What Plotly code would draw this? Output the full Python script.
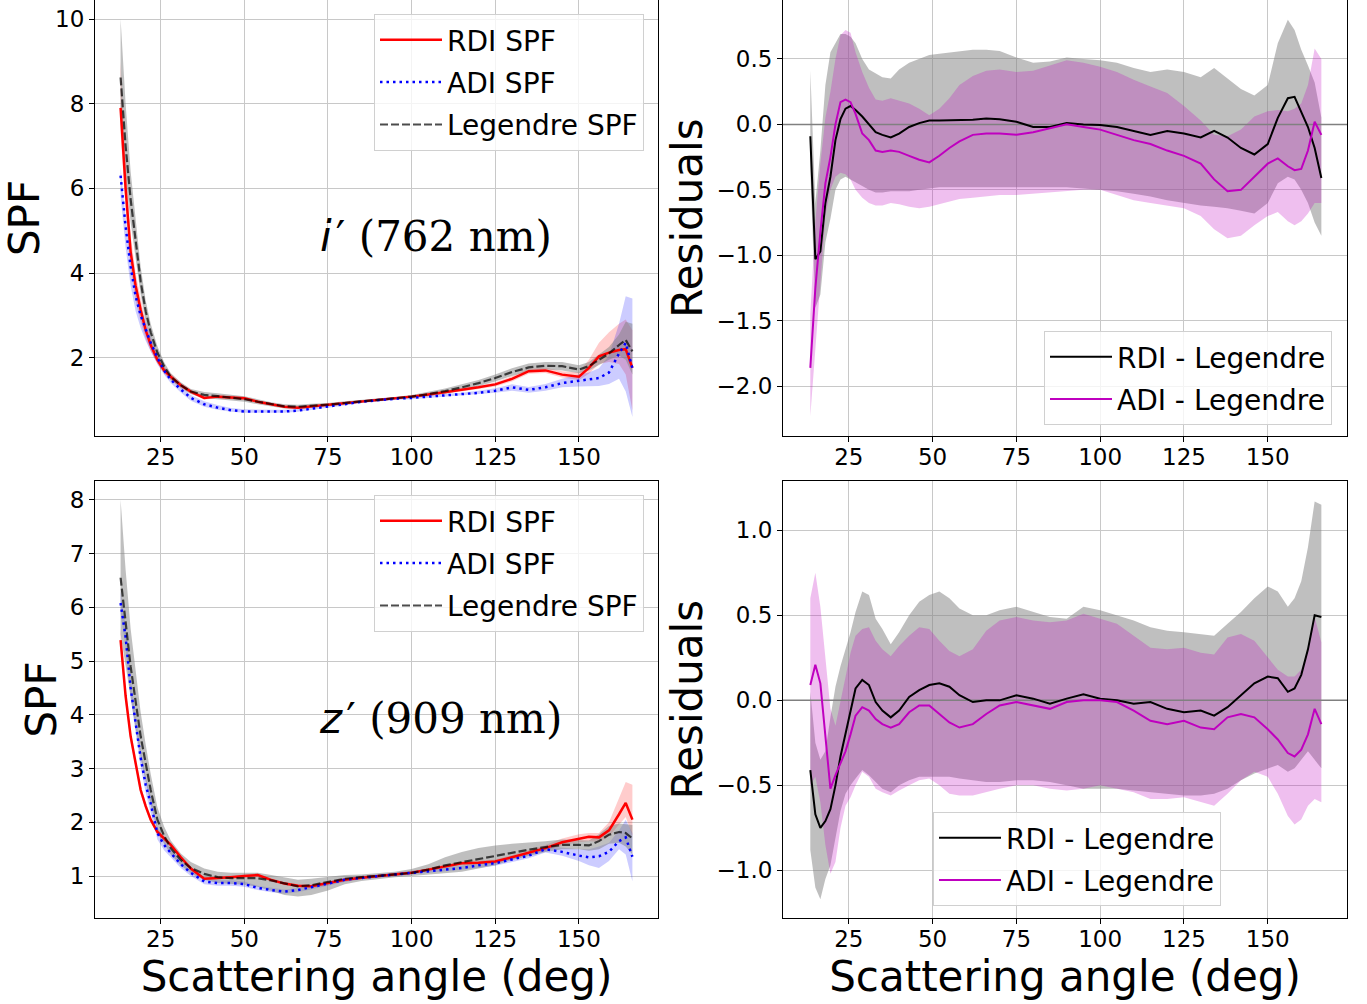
import plotly.graph_objects as go

# ---------------- data ----------------
angles_spf = [13, 14.5, 16, 17.5, 19, 20.5, 22, 24, 26, 28, 31, 34, 38, 42, 46, 50, 54, 58, 62, 66,
              70, 75, 80, 85, 90, 95, 100, 105, 110, 115, 120, 125, 130, 135, 140, 145, 150, 153,
              156, 159, 162, 164, 166]

# i' band (762 nm)
rdi_i = [7.9, 6.0, 4.5, 3.7, 3.13, 2.65, 2.3, 1.95, 1.7, 1.55, 1.35, 1.2, 1.05, 1.08, 1.06, 1.04, 0.96,
         0.9, 0.84, 0.82, 0.85, 0.89, 0.93, 0.96, 1.0, 1.04, 1.08, 1.13, 1.18, 1.24, 1.3, 1.37, 1.5,
         1.68, 1.7, 1.6, 1.55, 1.76, 2.03, 2.12, 2.18, 2.2, 1.76]
rdi_i_lo = [7.3, 5.5, 4.1, 3.35, 2.85, 2.45, 2.15, 1.85, 1.62, 1.48, 1.3, 1.15, 1.01, 1.04, 1.02, 1.0,
            0.93, 0.87, 0.81, 0.79, 0.82, 0.86, 0.9, 0.94, 0.98, 1.02, 1.05, 1.1, 1.15, 1.2, 1.26,
            1.32, 1.44, 1.62, 1.64, 1.53, 1.47, 1.62, 1.85, 1.9, 1.85, 1.6, 0.75]
rdi_i_hi = [9.0, 6.6, 4.9, 4.0, 3.4, 2.85, 2.45, 2.07, 1.8, 1.63, 1.41, 1.25, 1.09, 1.12, 1.1, 1.08,
            0.99, 0.93, 0.87, 0.85, 0.88, 0.92, 0.96, 0.98, 1.02, 1.06, 1.11, 1.16, 1.21, 1.28, 1.34,
            1.42, 1.56, 1.74, 1.76, 1.68, 1.65, 1.95, 2.35, 2.6, 2.8, 2.9, 2.65]
adi_i = [6.3, 5.1, 4.15, 3.45, 3.0, 2.65, 2.35, 2.0, 1.7, 1.48, 1.25, 1.05, 0.9, 0.82, 0.76, 0.73, 0.73,
         0.73, 0.73, 0.75, 0.79, 0.84, 0.9, 0.96, 1.0, 1.03, 1.05, 1.08, 1.1, 1.13, 1.17, 1.22, 1.3,
         1.24, 1.3, 1.4, 1.45, 1.48, 1.52, 1.65, 2.1, 2.35, 1.75]
adi_i_lo = [5.8, 4.6, 3.7, 3.1, 2.7, 2.4, 2.15, 1.85, 1.6, 1.4, 1.18, 0.98, 0.84, 0.77, 0.72, 0.7, 0.7,
            0.7, 0.7, 0.72, 0.76, 0.81, 0.87, 0.93, 0.97, 1.0, 1.02, 1.05, 1.07, 1.1, 1.13, 1.17,
            1.22, 1.17, 1.22, 1.3, 1.32, 1.32, 1.33, 1.38, 1.5, 1.2, 0.6]
adi_i_hi = [6.5, 5.3, 4.35, 3.65, 3.2, 2.85, 2.5, 2.13, 1.8, 1.56, 1.32, 1.12, 0.97, 0.88, 0.81, 0.78,
            0.77, 0.77, 0.77, 0.79, 0.83, 0.88, 0.93, 0.99, 1.03, 1.06, 1.08, 1.11, 1.14, 1.17, 1.22,
            1.28, 1.37, 1.31, 1.38, 1.5, 1.6, 1.65, 1.75, 2.05, 2.8, 3.45, 3.4]
leg_i = [8.62, 7.0, 5.74, 4.7, 3.8, 3.1, 2.6, 2.12, 1.8, 1.55, 1.35, 1.2, 1.12, 1.09, 1.06, 1.02, 0.96,
         0.9, 0.85, 0.84, 0.86, 0.89, 0.93, 0.97, 1.0, 1.04, 1.08, 1.14, 1.21, 1.3, 1.4, 1.52, 1.66,
         1.77, 1.81, 1.8, 1.72, 1.8, 1.95, 2.1, 2.3, 2.42, 2.15]
leg_i_lo = [7.9, 6.3, 5.2, 4.3, 3.5, 2.85, 2.4, 1.98, 1.7, 1.47, 1.28, 1.14, 1.05, 1.02, 0.99, 0.96,
            0.9, 0.85, 0.8, 0.79, 0.81, 0.85, 0.89, 0.94, 0.97, 1.01, 1.04, 1.09, 1.15, 1.23, 1.33,
            1.44, 1.57, 1.68, 1.72, 1.7, 1.63, 1.7, 1.83, 1.95, 2.05, 1.95, 1.6]
leg_i_hi = [10.0, 8.0, 6.4, 5.2, 4.15, 3.35, 2.8, 2.27, 1.9, 1.63, 1.42, 1.26, 1.19, 1.16, 1.13, 1.09,
            1.02, 0.95, 0.9, 0.89, 0.91, 0.93, 0.97, 1.0, 1.03, 1.07, 1.12, 1.19, 1.27, 1.37, 1.47,
            1.6, 1.75, 1.86, 1.9, 1.9, 1.82, 1.9, 2.07, 2.25, 2.55, 2.85, 2.8]

# z' band (909 nm)
rdi_z = [5.39, 4.35, 3.6, 3.1, 2.6, 2.3, 2.05, 1.82, 1.7, 1.58, 1.35, 1.14, 0.95, 0.96, 0.98, 1.0, 1.02,
         0.93, 0.86, 0.82, 0.81, 0.87, 0.93, 0.97, 1.0, 1.04, 1.06, 1.12, 1.18, 1.24, 1.25, 1.27,
         1.35, 1.43, 1.52, 1.63, 1.7, 1.73, 1.72, 1.85, 2.15, 2.36, 2.05]
rdi_z_lo = [5.2, 4.2, 3.5, 3.0, 2.52, 2.23, 2.0, 1.77, 1.66, 1.54, 1.31, 1.1, 0.92, 0.93, 0.95, 0.97,
            0.99, 0.9, 0.83, 0.79, 0.78, 0.84, 0.9, 0.94, 0.98, 1.02, 1.04, 1.09, 1.15, 1.21, 1.22,
            1.24, 1.32, 1.39, 1.47, 1.57, 1.63, 1.65, 1.64, 1.74, 1.95, 2.1, 1.75]
rdi_z_hi = [5.6, 4.5, 3.7, 3.2, 2.68, 2.37, 2.1, 1.87, 1.74, 1.62, 1.39, 1.18, 0.98, 0.99, 1.01, 1.03,
            1.05, 0.96, 0.89, 0.85, 0.84, 0.9, 0.96, 1.0, 1.02, 1.06, 1.09, 1.15, 1.21, 1.27, 1.29,
            1.31, 1.39, 1.48, 1.58, 1.7, 1.78, 1.8, 1.8, 2.0, 2.45, 2.75, 2.7]
adi_z = [6.08, 5.45, 4.5, 3.8, 3.2, 2.7, 2.35, 1.8, 1.58, 1.43, 1.22, 1.06, 0.9, 0.87, 0.87, 0.85, 0.78,
         0.74, 0.71, 0.74, 0.79, 0.86, 0.93, 0.97, 1.0, 1.03, 1.06, 1.09, 1.12, 1.15, 1.2, 1.24, 1.31,
         1.38, 1.5, 1.45, 1.38, 1.35, 1.37, 1.45, 1.65, 1.72, 1.36]
adi_z_lo = [5.9, 5.25, 4.3, 3.62, 3.03, 2.55, 2.2, 1.68, 1.48, 1.35, 1.15, 1.0, 0.85, 0.82, 0.82, 0.8,
            0.74, 0.7, 0.67, 0.7, 0.75, 0.82, 0.89, 0.94, 0.97, 1.0, 1.03, 1.06, 1.08, 1.11, 1.15,
            1.19, 1.26, 1.33, 1.44, 1.38, 1.28, 1.2, 1.15, 1.28, 1.5, 1.4, 0.9]
adi_z_hi = [6.3, 5.65, 4.7, 3.98, 3.37, 2.85, 2.5, 1.92, 1.68, 1.51, 1.29, 1.12, 0.95, 0.92, 0.92, 0.9,
            0.82, 0.78, 0.75, 0.78, 0.83, 0.9, 0.97, 1.0, 1.03, 1.06, 1.09, 1.12, 1.16, 1.19, 1.25,
            1.29, 1.36, 1.43, 1.56, 1.53, 1.5, 1.5, 1.55, 1.62, 1.85, 2.05, 1.8]
leg_z = [6.55, 5.75, 4.9, 4.25, 3.6, 3.1, 2.6, 2.05, 1.75, 1.52, 1.3, 1.15, 1.04, 0.98, 0.96, 0.96, 0.96,
         0.92, 0.86, 0.81, 0.83, 0.89, 0.95, 0.98, 1.0, 1.03, 1.06, 1.12, 1.2, 1.26, 1.32, 1.38, 1.44,
         1.49, 1.54, 1.58, 1.58, 1.57, 1.65, 1.77, 1.82, 1.8, 1.7]
leg_z_lo = [5.5, 4.9, 4.3, 3.75, 3.2, 2.75, 2.32, 1.85, 1.6, 1.4, 1.2, 1.05, 0.93, 0.87, 0.85, 0.84,
            0.8, 0.72, 0.65, 0.62, 0.65, 0.73, 0.85, 0.91, 0.95, 0.98, 1.0, 1.03, 1.06, 1.08, 1.14,
            1.2, 1.3, 1.38, 1.45, 1.5, 1.5, 1.47, 1.5, 1.6, 1.62, 1.55, 1.4]
leg_z_hi = [8.0, 6.7, 5.6, 4.8, 4.05, 3.45, 2.9, 2.28, 1.92, 1.66, 1.42, 1.26, 1.14, 1.08, 1.06, 1.06,
            1.06, 1.02, 0.98, 0.93, 0.95, 0.99, 1.02, 1.03, 1.05, 1.08, 1.13, 1.22, 1.35, 1.45, 1.52,
            1.57, 1.6, 1.62, 1.65, 1.68, 1.67, 1.66, 1.78, 1.93, 1.98, 1.97, 1.95]

angles_res = [13.5, 15, 16.5, 18, 19.5, 21, 22.5, 24, 25.5, 27, 29, 31, 33, 35, 37.5, 40, 43, 46, 49,
              52, 55, 58, 62, 66, 70, 75, 80, 85, 90, 95, 100, 105, 110, 115, 120, 125, 130, 134, 138,
              142, 146, 150, 153, 156, 158, 160, 162, 164, 166]

res_rdi_i = [-0.09, -1.03, -0.97, -0.6, -0.4, -0.12, 0.04, 0.12, 0.14, 0.11, 0.06, 0.0, -0.06, -0.08,
             -0.1, -0.07, -0.02, 0.01, 0.03, 0.03, 0.03, 0.03, 0.035, 0.045, 0.04, 0.02, -0.02, -0.02,
             0.01, 0.0, -0.005, -0.02, -0.05, -0.08, -0.05, -0.07, -0.1, -0.05, -0.1, -0.18, -0.23,
             -0.15, 0.05, 0.2, 0.21, 0.1, -0.02, -0.18, -0.41]
res_rdi_i_lo = [-0.35, -1.4, -1.3, -0.9, -0.72, -0.5, -0.42, -0.4, -0.42, -0.44, -0.47, -0.5, -0.52,
                -0.52, -0.51, -0.51, -0.51, -0.5, -0.49, -0.48, -0.48, -0.48, -0.48, -0.48, -0.48,
                -0.48, -0.48, -0.48, -0.48, -0.49, -0.5, -0.51, -0.53, -0.55, -0.58, -0.6, -0.62,
                -0.63, -0.64, -0.66, -0.68, -0.6, -0.45, -0.4, -0.42, -0.5, -0.6, -0.75, -0.85]
res_rdi_i_hi = [0.41, -0.6, -0.2, 0.3, 0.55, 0.62, 0.69, 0.69, 0.67, 0.62, 0.5, 0.42, 0.39, 0.36, 0.35,
                0.42, 0.47, 0.5, 0.53, 0.54, 0.55, 0.56, 0.57, 0.57, 0.56, 0.51, 0.47, 0.48, 0.51, 0.5,
                0.49, 0.47, 0.43, 0.4, 0.42, 0.4, 0.36, 0.43, 0.35, 0.27, 0.22, 0.3, 0.62, 0.8, 0.72,
                0.57, 0.45, 0.32, 0.05]
res_adi_i = [-1.86, -1.25, -0.82, -0.45, -0.25, 0.0, 0.17, 0.19, 0.17, 0.08, -0.07, -0.12, -0.2, -0.21,
             -0.2, -0.21, -0.24, -0.27, -0.29, -0.24, -0.18, -0.13, -0.08, -0.07, -0.07, -0.08, -0.06,
             -0.03, 0.0, -0.02, -0.04, -0.08, -0.12, -0.15, -0.2, -0.24, -0.3, -0.42, -0.51, -0.5,
             -0.4, -0.3, -0.26, -0.32, -0.35, -0.34, -0.2, 0.02, -0.08]
res_adi_i_lo = [-2.23, -1.7, -1.2, -0.7, -0.5, -0.4, -0.37, -0.38, -0.42, -0.5, -0.56, -0.6, -0.62,
                -0.62, -0.6, -0.61, -0.63, -0.64, -0.63, -0.61, -0.59, -0.57, -0.56, -0.55, -0.54,
                -0.54, -0.53, -0.52, -0.51, -0.5, -0.5, -0.54, -0.58, -0.6, -0.62, -0.64, -0.7, -0.8,
                -0.87, -0.85, -0.77, -0.7, -0.67, -0.74, -0.77, -0.74, -0.68, -0.6, -0.6]
res_adi_i_hi = [-1.45, -0.75, -0.3, 0.05, 0.25, 0.5, 0.68, 0.72, 0.7, 0.55, 0.4, 0.28, 0.19, 0.18, 0.2,
                0.18, 0.16, 0.12, 0.07, 0.12, 0.2, 0.3, 0.37, 0.41, 0.42, 0.4, 0.41, 0.45, 0.49, 0.47,
                0.44, 0.4, 0.34, 0.29, 0.24, 0.14, 0.03, -0.08, -0.09, -0.04, 0.06, 0.1, 0.11, 0.1,
                0.12, 0.16, 0.3, 0.58, 0.5]

res_rdi_z = [-0.41, -0.67, -0.75, -0.71, -0.64, -0.5, -0.33, -0.19, -0.05, 0.07, 0.12, 0.09, -0.01,
             -0.06, -0.1, -0.06, 0.02, 0.06, 0.09, 0.1, 0.08, 0.03, -0.01, 0.0, 0.0, 0.03, 0.01, -0.02,
             0.01, 0.035, 0.01, 0.0, -0.02, -0.01, -0.05, -0.07, -0.06, -0.09, -0.04, 0.03, 0.1, 0.14,
             0.13, 0.05, 0.07, 0.15, 0.3, 0.5, 0.49]
res_rdi_z_lo = [-0.88, -1.1, -1.17, -1.05, -0.97, -0.8, -0.65, -0.55, -0.5, -0.46, -0.41, -0.44, -0.48,
                -0.52, -0.54, -0.5, -0.47, -0.45, -0.45, -0.45, -0.45, -0.46, -0.47, -0.48, -0.48,
                -0.47, -0.47, -0.48, -0.5, -0.52, -0.52, -0.52, -0.53, -0.54, -0.55, -0.56, -0.56,
                -0.55, -0.52, -0.47, -0.43, -0.4, -0.38, -0.42, -0.4, -0.35, -0.3, -0.35, -0.4]
res_rdi_z_hi = [0.05, -0.25, -0.35, -0.3, -0.1, 0.08, 0.2, 0.3, 0.4, 0.52, 0.64, 0.62, 0.48, 0.42, 0.33,
                0.4, 0.5, 0.58, 0.62, 0.64, 0.6, 0.54, 0.5, 0.5, 0.53, 0.55, 0.52, 0.49, 0.48, 0.55,
                0.53, 0.5, 0.47, 0.43, 0.41, 0.4, 0.39, 0.38, 0.45, 0.52, 0.6, 0.67, 0.64, 0.55, 0.6,
                0.7, 0.9, 1.17, 1.15]
res_adi_z = [0.09, 0.21, 0.1, -0.2, -0.52, -0.44, -0.37, -0.3, -0.2, -0.09, -0.04, -0.06, -0.11, -0.14,
             -0.16, -0.14, -0.07, -0.03, -0.03, -0.08, -0.13, -0.16, -0.14, -0.08, -0.03, -0.01, -0.03,
             -0.05, -0.01, 0.0, 0.0, -0.01, -0.06, -0.12, -0.14, -0.12, -0.16, -0.17, -0.1, -0.08,
             -0.1, -0.17, -0.23, -0.31, -0.33, -0.29, -0.2, -0.05, -0.14]
res_adi_z_lo = [-0.5, -0.45, -0.6, -0.85, -1.02, -0.95, -0.75, -0.62, -0.57, -0.5, -0.42, -0.45, -0.52,
                -0.54, -0.56, -0.53, -0.5, -0.47, -0.46, -0.5, -0.55, -0.56, -0.56, -0.54, -0.52, -0.5,
                -0.5, -0.52, -0.53, -0.52, -0.5, -0.52, -0.54, -0.58, -0.58, -0.57, -0.6, -0.62, -0.55,
                -0.47, -0.42, -0.45, -0.55, -0.68, -0.73, -0.7, -0.62, -0.58, -0.6]
res_adi_z_hi = [0.6, 0.75, 0.55, 0.25, -0.05, -0.15, 0.0, 0.15, 0.28, 0.38, 0.42, 0.43, 0.35, 0.3, 0.26,
                0.32, 0.38, 0.43, 0.42, 0.35, 0.29, 0.26, 0.3, 0.41, 0.47, 0.49, 0.47, 0.46, 0.47, 0.51,
                0.48, 0.45, 0.38, 0.31, 0.3, 0.31, 0.28, 0.27, 0.37, 0.39, 0.35, 0.25, 0.18, 0.14, 0.14,
                0.18, 0.3, 0.49, 0.34]

x_ticks = [25, 50, 75, 100, 125, 150]
X_RANGE = [5.35, 173.65]

# ---------------- figure ----------------
fig = go.Figure()
FONT = "DejaVu Sans"


def band(xa, ya, x, lo, hi, color):
    fig.add_trace(go.Scatter(x=x, y=lo, mode="lines", line=dict(width=0), showlegend=False,
                             hoverinfo="skip", xaxis=xa, yaxis=ya))
    fig.add_trace(go.Scatter(x=x, y=hi, mode="lines", line=dict(width=0), fill="tonexty",
                             fillcolor=color, showlegend=False, hoverinfo="skip", xaxis=xa, yaxis=ya))


def line(xa, ya, x, y, name, color, dash, width, legend):
    fig.add_trace(go.Scatter(x=x, y=y, mode="lines", name=name,
                             line=dict(color=color, dash=dash, width=width),
                             legendgroup=legend + name,
                             xaxis=xa, yaxis=ya, legend=legend))


RED_BAND = "rgba(255,0,0,0.2)"
BLUE_BAND = "rgba(0,0,255,0.2)"
GRAY_BAND = "rgba(128,128,128,0.5)"
MAG_BAND = "rgba(191,0,191,0.25)"

# SPF panels
for xa, ya, lg, r, rl, rh, a, al, ah, l, ll, lh in [
    ("x", "y", "legend", rdi_i, rdi_i_lo, rdi_i_hi, adi_i, adi_i_lo, adi_i_hi, leg_i, leg_i_lo, leg_i_hi),
    ("x3", "y3", "legend3", rdi_z, rdi_z_lo, rdi_z_hi, adi_z, adi_z_lo, adi_z_hi, leg_z, leg_z_lo, leg_z_hi),
]:
    band(xa, ya, angles_spf, rl, rh, RED_BAND)
    band(xa, ya, angles_spf, al, ah, BLUE_BAND)
    band(xa, ya, angles_spf, ll, lh, GRAY_BAND)
    line(xa, ya, angles_spf, r, "RDI SPF", "#ff0000", "solid", 2.5, lg)
    line(xa, ya, angles_spf, a, "ADI SPF", "#0000ff", "2.5px,4px", 2.5, lg)
    line(xa, ya, angles_spf, l, "Legendre SPF", "rgba(0,0,0,0.7)", "8px,3px", 2.2, lg)

# Residual panels
for xa, ya, lg, r, rl, rh, a, al, ah in [
    ("x2", "y2", "legend2", res_rdi_i, res_rdi_i_lo, res_rdi_i_hi, res_adi_i, res_adi_i_lo, res_adi_i_hi),
    ("x4", "y4", "legend4", res_rdi_z, res_rdi_z_lo, res_rdi_z_hi, res_adi_z, res_adi_z_lo, res_adi_z_hi),
]:
    band(xa, ya, angles_res, rl, rh, GRAY_BAND)
    band(xa, ya, angles_res, al, ah, MAG_BAND)
    fig.add_trace(go.Scatter(x=X_RANGE, y=[0, 0], mode="lines", line=dict(color="#808080", width=1.5),
                             showlegend=False, hoverinfo="skip", xaxis=xa, yaxis=ya))
    line(xa, ya, angles_res, r, "RDI - Legendre", "#000000", "solid", 2, lg)
    line(xa, ya, angles_res, a, "ADI - Legendre", "#bf00bf", "solid", 2, lg)

W, H = 1367, 1004
LX = [95 / W, 658 / W]
RX = [783 / W, 1347 / W]
TY = [1 - 436 / H, 1.0]
BY = [1 - 918 / H, 1 - 481 / H]

tickfont = dict(family=FONT, size=23, color="black")
titlefont = dict(family=FONT, size=42, color="black")


def xaxis(domain, anchor, mirror, title=None):
    d = dict(domain=domain, anchor=anchor, range=X_RANGE, tickvals=x_ticks, showgrid=True,
             gridcolor="#c8c8c8", gridwidth=1, showline=True, linecolor="black", linewidth=1,
             mirror=mirror, ticks="outside", ticklen=5, tickcolor="black", tickfont=tickfont,
             zeroline=False, ticklabelstandoff=-5)
    if title:
        d["title"] = dict(text=title, font=titlefont, standoff=0)
    return d


def yaxis(domain, anchor, rng, tickvals, fmt, title, standoff):
    return dict(domain=domain, anchor=anchor, range=rng, tickvals=tickvals, tickformat=fmt,
                showgrid=True, gridcolor="#c8c8c8", gridwidth=1, showline=True, linecolor="black",
                linewidth=1, mirror=True, ticks="outside", ticklen=5, tickcolor="black",
                tickfont=tickfont, zeroline=False,
                title=dict(text=title, font=titlefont, standoff=standoff))


legend_common = dict(font=dict(family=FONT, size=28, color="black"), bgcolor="rgba(255,255,255,0.8)",
                     bordercolor="#d0d0d0", borderwidth=1, xanchor="right", yanchor="top",
                     traceorder="grouped", itemwidth=62, tracegroupgap=3)

fig.update_layout(
    width=W, height=H, margin=dict(l=0, r=0, t=0, b=0),
    plot_bgcolor="white", paper_bgcolor="white",
    font=dict(family=FONT, color="black"),
    xaxis=xaxis(LX, "y", False),
    yaxis=yaxis(TY, "x", [0.15, 10.45], [2, 4, 6, 8, 10], None, "SPF", 3),
    xaxis2=xaxis(RX, "y2", False),
    yaxis2=yaxis(TY, "x2", [-2.38, 0.95], [-2.0, -1.5, -1.0, -0.5, 0.0, 0.5], ".1f", "Residuals", 0),
    xaxis3=xaxis(LX, "y3", True, "Scattering angle (deg)"),
    yaxis3=yaxis(BY, "x3", [0.22, 8.35], [1, 2, 3, 4, 5, 6, 7, 8], None, "SPF", 0),
    xaxis4=xaxis(RX, "y4", True, "Scattering angle (deg)"),
    yaxis4=yaxis(BY, "x4", [-1.28, 1.29], [-1.0, -0.5, 0.0, 0.5, 1.0], ".1f", "Residuals", 0),
    legend=dict(x=644 / W, y=1 - 14 / H, **legend_common),
    legend2=dict(x=1332 / W, y=1 - 331 / H, **legend_common),
    legend3=dict(x=644 / W, y=1 - 495 / H, **legend_common),
    legend4=dict(x=1221 / W, y=1 - 812 / H, **legend_common),
    annotations=[
        dict(text="<span style=\"font-family:DejaVu Sans\"><i>i</i>\u200a′</span> (762 nm)",
             x=436 / W, y=1 - 236 / H, xref="paper", yref="paper",
             showarrow=False, xanchor="center", yanchor="middle",
             font=dict(family="DejaVu Serif", size=42, color="black")),
        dict(text="<span style=\"font-family:DejaVu Sans\"><i>z</i>\u200a′</span> (909 nm)",
             x=440 / W, y=1 - 718 / H, xref="paper", yref="paper",
             showarrow=False, xanchor="center", yanchor="middle",
             font=dict(family="DejaVu Serif", size=42, color="black")),
    ],
)

fig.write_html("out.html", config={"displayModeBar": False},
               post_script="document.body.style.margin='0px';")
